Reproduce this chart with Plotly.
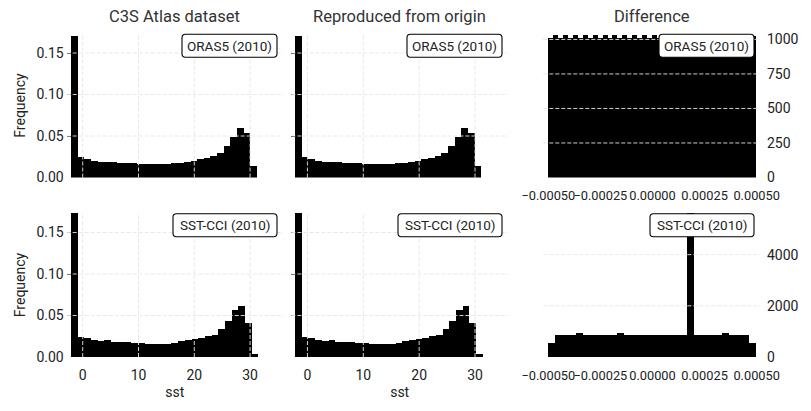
import numpy as np
import plotly.graph_objects as go

# ---------------- data ----------------
# SST histograms (relative frequency), 28 equal bins
oras5_bin_start = -2.15
oras5_bin_width = 1.19
oras5_freq = [0.171, 0.0249, 0.0235, 0.021, 0.0189, 0.0189, 0.0189, 0.0177, 0.0177, 0.0177,
              0.0165, 0.0165, 0.0165, 0.0165, 0.0165, 0.0177, 0.0185, 0.0197, 0.021, 0.0229,
              0.0245, 0.027, 0.0305, 0.039, 0.049, 0.0606, 0.0546, 0.0149]
oras5_repro_freq = list(oras5_freq)

sstcci_bin_start = -2.15
sstcci_bin_width = 1.20
sstcci_freq = [0.1735, 0.0241, 0.0233, 0.0209, 0.0193, 0.020, 0.0185, 0.0183, 0.018, 0.0169,
               0.0165, 0.0153, 0.0153, 0.0153, 0.0153, 0.0169, 0.0189, 0.020, 0.0213, 0.0229,
               0.0249, 0.0269, 0.034, 0.0434, 0.0562, 0.061, 0.041, 0.0032]
sstcci_repro_freq = list(sstcci_freq)

# Difference histograms (counts)
diff_lo, diff_hi = -0.0005, 0.0005
oras5_diff_counts = [1012, 1036, 1012, 1036, 1012, 1036, 1012, 1036, 1012, 1036,
                     1012, 1036, 1012, 1036, 1012, 1036, 1012, 1036, 1012, 1036,
                     1012, 1036, 1012, 1036, 1012, 1036, 1012, 1036, 1012, 1036,
                     1012, 1036, 1012, 1036, 1012, 1036, 1012, 1036, 1012, 1036,
                     1012, 1030]
sstcci_diff_counts = [546, 870, 870, 870, 935, 870, 870, 870, 870, 870,
                      935, 870, 870, 870, 870, 870, 870, 870, 870, 870,
                      5620, 870, 870, 870, 870, 935, 870, 870, 870, 546]

col_titles = ["C3S Atlas dataset", "Reproduced from origin", "Difference"]
row_labels = ["ORAS5 (2010)", "SST-CCI (2010)"]
sst_ticks = [0, 10, 20, 30]
freq_ticks = [0.05, 0.10, 0.15]
oras5_diff_yticks = [250, 500, 750, 1000]
sstcci_diff_yticks = [2000, 4000]
diff_xticks = [-0.0005, -0.00025, 0.0, 0.00025, 0.0005]

# ---------------- layout geometry ----------------
W, H = 811, 411
FONT = "Roboto"
GRID = "#e6e6e6"
TXT = "#222222"


def px_x(p):
    return p / W


def px_y(p):
    return 1 - p / H


col_px = [(66.7, 283.0), (291.4, 508.0), (543.3, 760.0)]
row_px = [(33.5, 177.5), (213.0, 357.0)]
col_dom = [(px_x(a), px_x(b)) for a, b in col_px]
row_dom = [(px_y(b), px_y(a)) for a, b in row_px]

box_right = [277.0, 502.0, 754.0]
box_w = [95.0, 104.0]
box_h = 23.0
box_r = 3.5

sst_range = [-2.87, 35.9]
freq_range = [0, 0.1735]
diff_range = [-0.000524, 0.000516]


def hist_bar(start, width, vals):
    edges = start + width * np.arange(len(vals) + 1)
    centers = (edges[:-1] + edges[1:]) / 2
    return centers, np.full(len(vals), width)


def diff_bar(vals):
    edges = np.linspace(diff_lo, diff_hi, len(vals) + 1)
    centers = (edges[:-1] + edges[1:]) / 2
    return centers, np.diff(edges)


def rounded_box(x0, y0, x1, y1, r):
    def P(x, y):
        return f"{px_x(x):.5f},{px_y(y):.5f}"
    return (f"M {P(x0 + r, y0)} L {P(x1 - r, y0)} Q {P(x1, y0)} {P(x1, y0 + r)} "
            f"L {P(x1, y1 - r)} Q {P(x1, y1)} {P(x1 - r, y1)} L {P(x0 + r, y1)} "
            f"Q {P(x0, y1)} {P(x0, y1 - r)} L {P(x0, y0 + r)} Q {P(x0, y0)} {P(x0 + r, y0)} Z")


fig = go.Figure()

panels = [
    (0, 0, *hist_bar(oras5_bin_start, oras5_bin_width, oras5_freq), oras5_freq),
    (0, 1, *hist_bar(oras5_bin_start, oras5_bin_width, oras5_repro_freq), oras5_repro_freq),
    (0, 2, *diff_bar(oras5_diff_counts), oras5_diff_counts),
    (1, 0, *hist_bar(sstcci_bin_start, sstcci_bin_width, sstcci_freq), sstcci_freq),
    (1, 1, *hist_bar(sstcci_bin_start, sstcci_bin_width, sstcci_repro_freq), sstcci_repro_freq),
    (1, 2, *diff_bar(sstcci_diff_counts), sstcci_diff_counts),
]

shapes = []
annotations = []
tickfont = dict(family=FONT, size=14, color=TXT)
diff_tickfont = dict(family=FONT, size=12.8, color=TXT)
gridline = dict(color=GRID, width=0.9, dash="4px,2px")

for idx, (r, c, xs, ws, ys) in enumerate(panels):
    n = idx + 1
    xa = "x" if n == 1 else f"x{n}"
    ya = "y" if n == 1 else f"y{n}"
    fig.add_trace(go.Bar(x=xs, y=ys, width=ws, marker=dict(color="black", line=dict(width=0)),
                         xaxis=xa, yaxis=ya, showlegend=False, hoverinfo="x+y"))
    xkey = "xaxis" if n == 1 else f"xaxis{n}"
    ykey = "yaxis" if n == 1 else f"yaxis{n}"
    if c < 2:
        xaxis = dict(domain=col_dom[c], range=sst_range, anchor=ya, showgrid=False, zeroline=False,
                     showline=False, tickvals=sst_ticks, ticks="", showticklabels=(r == 1),
                     tickfont=tickfont, ticklabelstandoff=8, tickangle=0, automargin=False,
                     title=dict(text="sst" if r == 1 else "", font=tickfont, standoff=5))
        yaxis = dict(domain=row_dom[r], range=freq_range, anchor=xa, showgrid=False, zeroline=False,
                     showline=False, tickvals=[0] + freq_ticks, tickformat=".2f", ticks="inside",
                     ticklen=4, tickcolor="#333", showticklabels=(c == 0), automargin=False,
                     tickfont=tickfont, ticklabelstandoff=2,
                     title=dict(text="Frequency" if c == 0 else "", font=tickfont, standoff=7))
        for xv in sst_ticks:
            shapes.append(dict(type="line", xref=xa, yref=f"{ya} domain", x0=xv, x1=xv, y0=0, y1=1,
                               line=gridline, layer="above"))
        for yv in freq_ticks:
            shapes.append(dict(type="line", xref=f"{xa} domain", yref=ya, x0=0, x1=1, y0=yv, y1=yv,
                               line=gridline, layer="above"))
    else:
        yt = oras5_diff_yticks if r == 0 else sstcci_diff_yticks
        ymax = 1043 if r == 0 else 5626
        xaxis = dict(domain=col_dom[c], range=diff_range, anchor=ya, showgrid=False, zeroline=False,
                     showline=False, tickvals=diff_xticks, tickformat=".5f", ticks="",
                     tickfont=diff_tickfont, ticklabelstandoff=9, tickangle=0, automargin=False)
        yaxis = dict(domain=row_dom[r], range=[0, ymax], anchor=xa, side="right", showgrid=False,
                     zeroline=False, showline=False, tickvals=[0] + yt, ticks="", automargin=False,
                     tickfont=tickfont, ticklabelstandoff=6)
        for yv in yt:
            shapes.append(dict(type="line", xref=f"{xa} domain", yref=ya, x0=0, x1=1, y0=yv, y1=yv,
                               line=gridline, layer="above"))
    fig.layout[xkey] = xaxis
    fig.layout[ykey] = yaxis

    bx1 = box_right[c]
    bx0 = bx1 - box_w[r]
    by0 = row_px[r][0] + 0.8
    by1 = by0 + box_h
    shapes.append(dict(type="path", xref="paper", yref="paper", path=rounded_box(bx0, by0, bx1, by1, box_r),
                       fillcolor="white", line=dict(color="black", width=1.1), layer="above"))
    annotations.append(dict(text=row_labels[r], xref="paper", yref="paper",
                            x=px_x((bx0 + bx1) / 2), y=px_y((by0 + by1) / 2),
                            xanchor="center", yanchor="middle", showarrow=False,
                            font=dict(family=FONT, size=13.5, color=TXT)))

for c, t in enumerate(col_titles):
    annotations.append(dict(text=t, xref="paper", yref="paper", x=(col_dom[c][0] + col_dom[c][1]) / 2,
                            y=px_y(17), xanchor="center", yanchor="middle", showarrow=False,
                            font=dict(family=FONT, size=16.5, color="#333333")))

fig.update_layout(width=W, height=H, margin=dict(l=0, r=0, t=0, b=0), paper_bgcolor="white",
                  plot_bgcolor="white", bargap=0, shapes=shapes, annotations=annotations,
                  font=dict(family=FONT, color=TXT))

fig.write_html("out.html", config={"displayModeBar": False},
               post_script="document.body.style.margin='0px';")
